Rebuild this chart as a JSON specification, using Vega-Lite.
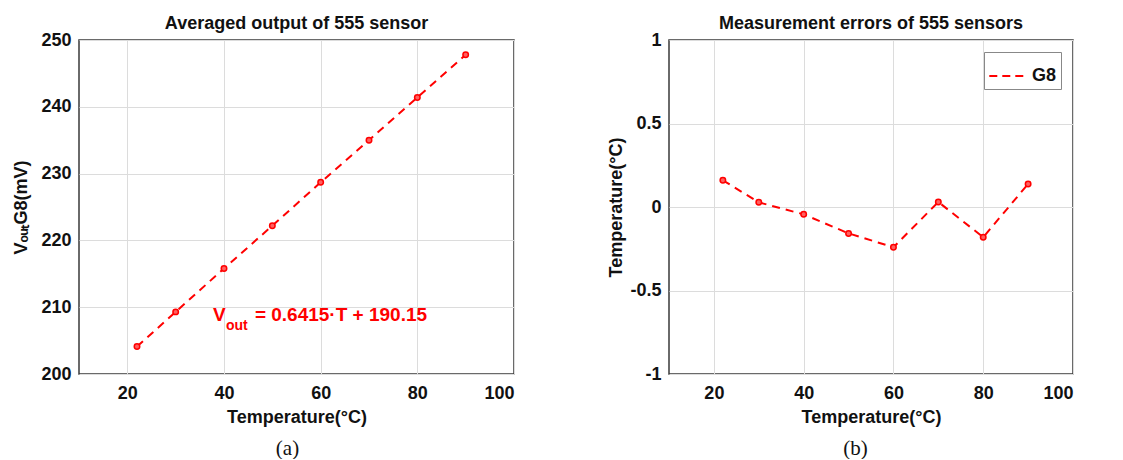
{
  "$schema": "https://vega.github.io/schema/vega-lite/v6.json",
  "padding": {"left": 12, "top": 14, "right": 0, "bottom": 0},
  "background": "white",
  "datasets": {
    "left": [
      {"T": 22, "V": 204.1},
      {"T": 30, "V": 209.3},
      {"T": 40, "V": 215.8},
      {"T": 50, "V": 222.2},
      {"T": 60, "V": 228.7},
      {"T": 70, "V": 235.0},
      {"T": 80, "V": 241.4},
      {"T": 90, "V": 247.8}
    ],
    "right": [
      {"T": 22, "err": 0.16, "series": "G8"},
      {"T": 30, "err": 0.028, "series": "G8"},
      {"T": 40, "err": -0.044, "series": "G8"},
      {"T": 50, "err": -0.158, "series": "G8"},
      {"T": 60, "err": -0.241, "series": "G8"},
      {"T": 70, "err": 0.03, "series": "G8"},
      {"T": 80, "err": -0.181, "series": "G8"},
      {"T": 90, "err": 0.138, "series": "G8"}
    ],
    "eq": [
      {"part": "V", "T": 37.7, "V": 208.8}
    ],
    "eqsub": [
      {"part": "out", "T": 37.7, "V": 208.8}
    ],
    "eqrest": [
      {"part": "= 0.6415·T + 190.15", "T": 37.7, "V": 208.8}
    ]
  },
  "spacing": 92,
  "resolve": {"legend": {"color": "independent"}, "scale": {"color": "independent"}},
  "hconcat": [
    {
      "title": {"text": "(a)", "orient": "bottom", "anchor": "middle", "dx": 24, "font": "Liberation Serif", "fontSize": 21, "fontWeight": "normal", "color": "#111", "offset": 11},
      "hconcat": [
        {
          "width": 435,
          "height": 334,
          "title": {"text": "Averaged output of 555 sensor", "frame": "group", "anchor": "middle", "font": "Liberation Sans", "fontSize": 18, "fontWeight": "bold", "color": "#111", "offset": -2},
          "layer": [
            {
              "data": {"name": "left"},
              "mark": {"type": "line", "color": "#ff0000", "strokeWidth": 2, "strokeDash": [8, 6]},
              "encoding": {
                "x": {"field": "T", "type": "quantitative", "scale": {"domain": [10, 100], "nice": false, "zero": false},
                      "axis": {"values": [20, 40, 60, 80, 100], "title": "Temperature(°C)"}},
                "y": {"field": "V", "type": "quantitative", "scale": {"domain": [200, 250], "nice": false, "zero": false},
                      "axis": {"values": [200, 210, 220, 230, 240, 250], "title": "VₒᵤₜG8(mV)", "titlePadding": 10, "labelPadding": 8}}
              }
            },
            {
              "data": {"name": "left"},
              "mark": {"type": "point", "shape": "circle", "size": 30, "filled": true, "fill": "#ff6060", "stroke": "#ff0000", "strokeWidth": 1.5, "opacity": 1},
              "encoding": {
                "x": {"field": "T", "type": "quantitative"},
                "y": {"field": "V", "type": "quantitative"}
              }
            },
            {
              "data": {"name": "eq"},
              "mark": {"type": "text", "align": "left", "baseline": "middle", "font": "Liberation Sans", "fontSize": 19, "fontWeight": "bold", "fill": "#ff0000"},
              "encoding": {"x": {"field": "T", "type": "quantitative"}, "y": {"field": "V", "type": "quantitative"}, "text": {"field": "part", "type": "nominal"}}
            },
            {
              "data": {"name": "eqsub"},
              "mark": {"type": "text", "align": "left", "baseline": "middle", "font": "Liberation Sans", "fontSize": 14, "fontWeight": "bold", "fill": "#ff0000", "dx": 13, "dy": 11},
              "encoding": {"x": {"field": "T", "type": "quantitative"}, "y": {"field": "V", "type": "quantitative"}, "text": {"field": "part", "type": "nominal"}}
            },
            {
              "data": {"name": "eqrest"},
              "mark": {"type": "text", "align": "left", "baseline": "middle", "font": "Liberation Sans", "fontSize": 19, "fontWeight": "bold", "fill": "#ff0000", "dx": 42},
              "encoding": {"x": {"field": "T", "type": "quantitative"}, "y": {"field": "V", "type": "quantitative"}, "text": {"field": "part", "type": "nominal"}}
            }
          ]
        }
      ]
    },
    {
      "title": {"text": "(b)", "orient": "bottom", "anchor": "middle", "dx": 15, "font": "Liberation Serif", "fontSize": 21, "fontWeight": "normal", "color": "#111", "offset": 11},
      "resolve": {"legend": {"color": "independent"}, "scale": {"color": "independent"}},
      "hconcat": [
        {
          "width": 404,
          "height": 334,
          "title": {"text": "Measurement errors of 555 sensors", "frame": "group", "anchor": "middle", "font": "Liberation Sans", "fontSize": 18, "fontWeight": "bold", "color": "#111", "offset": -2},
          "data": {"name": "right"},
          "encoding": {
            "x": {"field": "T", "type": "quantitative", "scale": {"domain": [10, 100], "nice": false, "zero": false},
                  "axis": {"values": [20, 40, 60, 80, 100], "title": "Temperature(°C)"}},
            "y": {"field": "err", "type": "quantitative", "scale": {"domain": [-1, 1], "nice": false, "zero": false},
                  "axis": {"values": [-1, -0.5, 0, 0.5, 1], "labelExpr": "'' + datum.value", "title": "Temperature(°C)", "titlePadding": 4, "labelPadding": 8}}
          },
          "layer": [
            {
              "mark": {"type": "line", "strokeWidth": 2, "strokeDash": [8, 6]},
              "encoding": {
                "color": {"field": "series", "type": "nominal", "scale": {"range": ["#ff0000"]},
                          "legend": {"title": null, "orient": "top-right", "offset": 12, "symbolType": "stroke", "symbolDash": [8, 5], "symbolStrokeWidth": 2, "symbolSize": 1400,
                                     "labelFont": "Liberation Sans", "labelFontSize": 18, "labelFontWeight": "bold", "labelColor": "#111", "labelOffset": 4,
                                     "strokeColor": "#888", "fillColor": "white", "padding": 4}}
              }
            },
            {"mark": {"type": "point", "shape": "circle", "size": 30, "filled": true, "fill": "#ff6060", "stroke": "#ff0000", "strokeWidth": 1.5, "opacity": 1}}
          ]
        }
      ]
    }
  ],
  "config": {
    "font": "Liberation Sans",
    "view": {"stroke": "#3a3a3a", "strokeWidth": 1.5},
    "axis": {
      "labelFont": "Liberation Sans", "labelFontSize": 18, "labelFontWeight": "bold", "labelColor": "#111",
      "titleFont": "Liberation Sans", "titleFontSize": 18, "titleFontWeight": "bold", "titleColor": "#111",
      "gridColor": "#dcdcdc", "gridWidth": 1, "domain": false, "ticks": false, "labelPadding": 10, "titlePadding": 6
    }
  }
}
